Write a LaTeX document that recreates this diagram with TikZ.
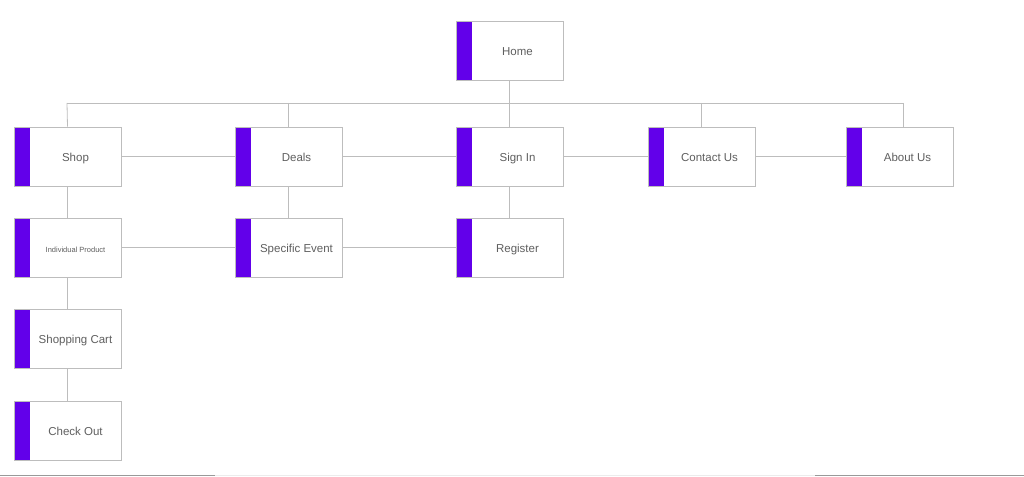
\documentclass[tikz,border=0pt]{standalone}
\usepackage{fontspec}
\setmainfont{Liberation Sans}
\definecolor{bar}{HTML}{6200EA}
\definecolor{edge}{HTML}{BDBDBD}
\definecolor{txt}{HTML}{5F5F5F}
\begin{document}
\begin{tikzpicture}[x=1pt,y=-1pt,
  pagebox/.style={draw=edge,line width=0.8pt,fill=white,minimum width=107pt,minimum height=59pt,inner sep=0pt,
    path picture={\fill[bar] (path picture bounding box.south west) rectangle ([xshift=16pt]path picture bounding box.north west);}},
  lbl/.style={text=txt,font=\fontsize{11.5}{13}\selectfont,xshift=8pt,yshift=-1.5pt,inner sep=0pt,text height=1.6ex,text depth=0.4ex},
  link/.style={draw=edge,line width=0.8pt}]
\useasboundingbox (0,0) rectangle (1024,476);
\coordinate (busL) at (67,103);
\coordinate (busR) at (903,103);
\node[pagebox,label={[lbl]center:Home}] (home) at (509.5,50.5) {};
\node[pagebox,label={[lbl]center:Shop}] (shop) at (67.5,156.5) {};
\node[pagebox,label={[lbl]center:Deals}] (deals) at (288.5,156.5) {};
\node[pagebox,label={[lbl]center:Sign In}] (signin) at (509.5,156.5) {};
\node[pagebox,label={[lbl]center:Contact Us}] (contact) at (701.5,156.5) {};
\node[pagebox,label={[lbl]center:About Us}] (about) at (899.5,156.5) {};
\node[pagebox,label={[lbl,font=\fontsize{7.5}{9}\selectfont]center:Individual Product}] (indiv) at (67.5,247.5) {};
\node[pagebox,label={[lbl]center:Specific Event}] (event) at (288.5,247.5) {};
\node[pagebox,label={[lbl]center:Register}] (register) at (509.5,247.5) {};
\node[pagebox,label={[lbl]center:Shopping Cart}] (cart) at (67.5,338.5) {};
\node[pagebox,label={[lbl]center:Check Out}] (checkout) at (67.5,430.5) {};
% tree bus
\draw[link] (home.south) -- (home.south |- busL);
\draw[link] (busL) -- (busR);
\draw[link] (busL) -- (shop.north);
\draw[link] (deals.north |- busL) -- (deals.north);
\draw[link] (signin.north |- busL) -- (signin.north);
\draw[link] (contact.north |- busL) -- (contact.north);
\draw[link] (busR) -- (busR |- about.north);
% horizontal links
\draw[link] (shop.east) -- (deals.west);
\draw[link] (deals.east) -- (signin.west);
\draw[link] (signin.east) -- (contact.west);
\draw[link] (contact.east) -- (about.west);
\draw[link] (indiv.east) -- (event.west);
\draw[link] (event.east) -- (register.west);
% vertical links
\draw[link] (shop.south) -- (indiv.north);
\draw[link] (deals.south) -- (event.north);
\draw[link] (signin.south) -- (register.north);
\draw[link] (indiv.south) -- (cart.north);
\draw[link] (cart.south) -- (checkout.north);
% bottom edge
\fill[gray!80] (0,474.5) rectangle (215,476);
\fill[gray!80] (815,474.5) rectangle (1024,476);
\fill[gray!15] (215,474.5) rectangle (815,476);
\end{tikzpicture}
\end{document}
